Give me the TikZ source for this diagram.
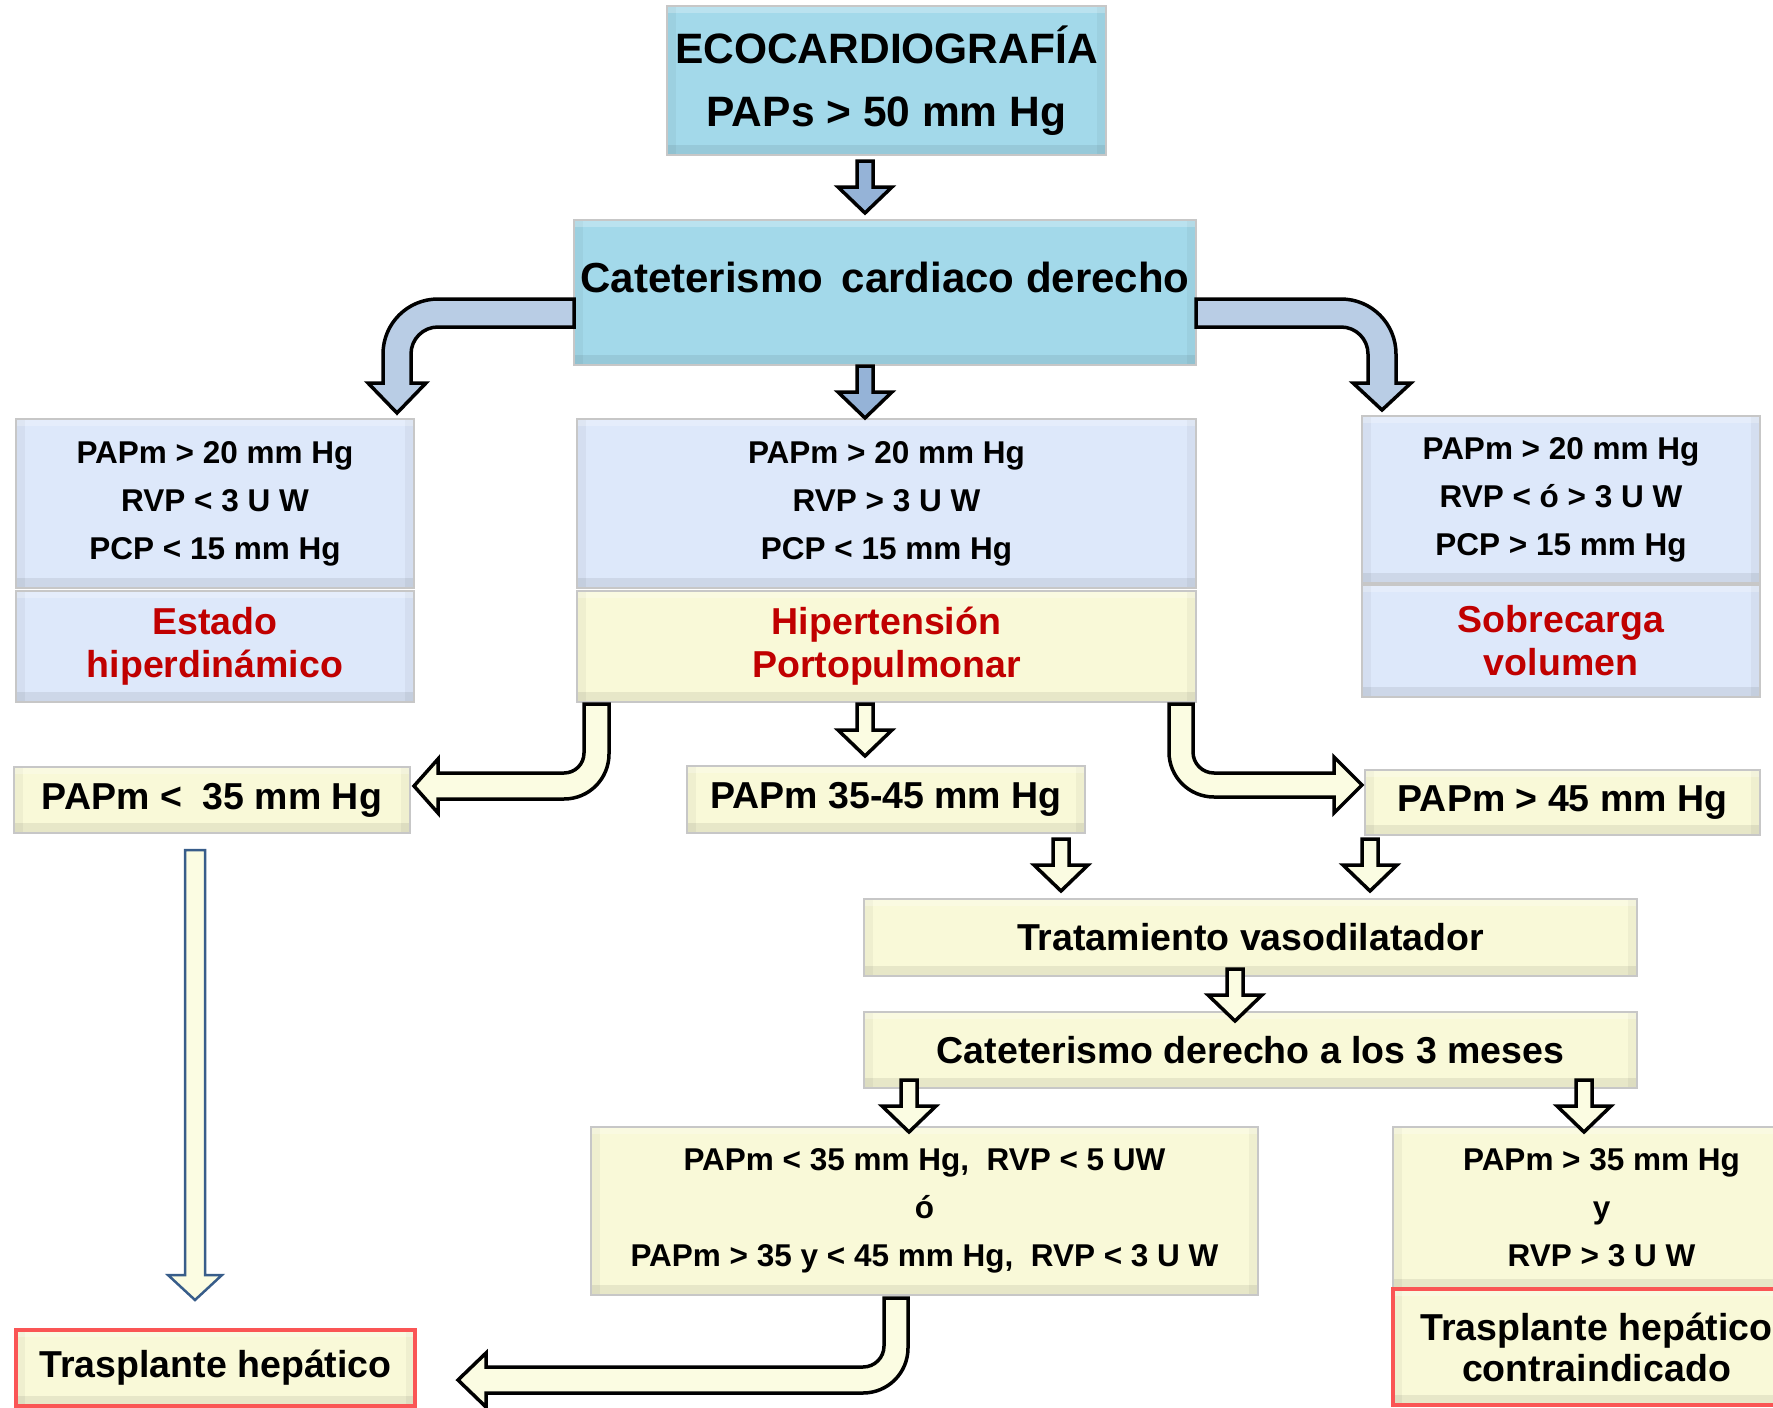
\documentclass[tikz,border=0pt]{standalone}
\usepackage{fontspec}
\setmainfont{Liberation Sans}
\usetikzlibrary{calc}

\definecolor{boxcyan}{RGB}{163,217,234}
\definecolor{boxblue}{RGB}{221,232,250}
\definecolor{boxyel}{RGB}{249,249,216}
\definecolor{arrblue}{RGB}{149,179,215}
\definecolor{arrlblue}{RGB}{185,205,229}
\definecolor{arryel}{RGB}{251,252,226}
\definecolor{txtred}{RGB}{192,0,0}
\definecolor{redline}{RGB}{250,85,85}
\definecolor{navyline}{RGB}{56,93,138}
\newcommand{\fsz}[2]{\fontsize{#1}{#2}\selectfont\bfseries}

\begin{document}
\begin{tikzpicture}[x=1pt, y=-1pt,
  box/.style={draw=black!22, line width=2pt, inner sep=0pt, align=center, font=\fsz{37.5}{43},
    path picture={
      \fill[black, opacity=0.07] (path picture bounding box.south west) rectangle ([yshift=10pt]path picture bounding box.south east);
      \fill[black, opacity=0.04] (path picture bounding box.south west) rectangle ([xshift=9pt]path picture bounding box.north west);
      \fill[black, opacity=0.04] (path picture bounding box.south east) rectangle ([xshift=-9pt]path picture bounding box.north east);
      \fill[white, opacity=0.25] (path picture bounding box.north west) rectangle ([yshift=-7pt]path picture bounding box.north east);
    }},
  cbox/.style={box, fill=boxcyan},
  bbox/.style={box, fill=boxblue},
  ybox/.style={box, fill=boxyel},
  rbox/.style={box, fill=boxyel, draw=redline, line width=3.5pt},
  sz/.style 2 args={minimum width=#1, minimum height=#2},
  lines/.style={font=\fsz{31.5}{48}},
  redtxt/.style={text=txtred},
  arr/.style={draw=black, line width=3.5pt, line join=miter},
]
\useasboundingbox (0,0) rectangle (1773,1408);

\node[cbox, sz={439}{149}, font=\fsz{42.5}{63}] (eco) at (886.5,80.5) {ECOCARDIOGRAFÍA\\PAPs > 50 mm Hg};
\node[cbox, sz={622}{145}] (cat) at (885,292.5) {};
\node[font=\fsz{42}{50}] (catT) at (885,277) {Cateterismo\ \,cardiaco derecho};

\node[bbox, lines, sz={398}{169}] (lb) at (215,503.5) {PAPm > 20 mm Hg\\RVP < 3 U W\\PCP < 15 mm Hg};
\node[bbox, redtxt, sz={398}{111}] (lr) at (215,646) {Estado\\hiperdinámico};
\node[bbox, lines, sz={619}{169}] (mb) at (886.5,503.5) {PAPm > 20 mm Hg\\RVP > 3 U W\\PCP < 15 mm Hg};
\node[ybox, redtxt, sz={619}{111}] (my) at (886.5,646) {Hipertensión\\Portopulmonar};
\node[bbox, lines, sz={398}{167}] (rb) at (1561,499.5) {PAPm > 20 mm Hg\\RVP < ó > 3 U W\\PCP > 15 mm Hg};
\node[bbox, redtxt, sz={398}{112}] (rr) at (1561,641) {Sobrecarga\\volumen};

\node[ybox, sz={396}{66}] (p35) at (212,800) {PAPm <\ \ 35 mm Hg};
\node[ybox, sz={398}{67}] (p3545) at (886,799.5) {PAPm 35-45 mm Hg};
\node[ybox, sz={395}{65}] (p45) at (1562.5,802.5) {PAPm > 45 mm Hg};
\node[ybox, sz={773}{77}] (trat) at (1250.5,937.5) {Tratamiento vasodilatador};
\node[ybox, sz={773}{76}] (cat3) at (1250.5,1050) {Cateterismo derecho a los 3 meses};
\node[ybox, lines, sz={667}{168}] (lowl) at (924.5,1211) {PAPm < 35 mm Hg,\ \ RVP < 5 UW\\ó\\PAPm > 35 y < 45 mm Hg,\ \ RVP < 3 U W};
\node[ybox, lines, sz={407}{162}] (lowr) at (1596.5,1208) {\hspace*{10pt}PAPm > 35 mm Hg\\\hspace*{10pt}y\\\hspace*{10pt}RVP > 3 U W};
\node[rbox, font=\fsz{37.5}{41}, sz={407}{116}] (contra) at (1596.5,1347) {Trasplante hepático\\contraindicado};
\node[rbox, sz={399}{76}] (trasp) at (215.5,1368) {Trasplante hepático};

\foreach \x/\y/\c in {865/161/arrblue, 865/366/arrblue, 865/704/arryel, 1061/839/arryel, 1370/839/arryel,
  1235/969/arryel, 909/1080/arryel, 1584/1080/arryel}
  \draw[arr, fill=\c] (\x,\y) ++(-8,0) -- ++(0,26) -- ++(-19,0) -- ++(27,26) -- ++(27,-26) -- ++(-19,0) -- ++(0,-26) -- cycle;

\draw[arr, fill=arrlblue] (574,299) -- (438,299) to[out=180,in=90] (383,354) -- (383,383) -- (368,383) -- (397,413)
  -- (426,383) -- (411,383) -- (411,354) to[out=90,in=180] (438,327) -- (574,327) -- cycle;
\draw[arr, fill=arrlblue] (1196,299) -- (1341,299) to[out=0,in=90] (1396,354) -- (1396,383) -- (1411,383) -- (1382,410)
  -- (1353,383) -- (1368,383) -- (1368,354) to[out=90,in=0] (1341,327) -- (1196,327) -- cycle;

\draw[arr, fill=arryel] (584,704) -- (584,753) to[out=270,in=0] (564,773) -- (438,773) -- (438,759) -- (414,786)
  -- (438,813) -- (438,799) -- (564,799) to[out=0,in=270] (609,754) -- (609,704) -- cycle;
\draw[arr, fill=arryel] (1169,704) -- (1169,752) to[out=270,in=180] (1214,797) -- (1334,797) -- (1334,813) -- (1362,785)
  -- (1334,757) -- (1334,773) -- (1214,773) to[out=180,in=270] (1193,752) -- (1193,704) -- cycle;
\draw[arr, fill=arryel] (884,1298) -- (884,1346) to[out=270,in=0] (863,1367) -- (486,1367) -- (486,1353) -- (458,1380)
  -- (486,1407) -- (486,1393) -- (863,1393) to[out=0,in=270] (908,1348) -- (908,1298) -- cycle;

\draw[draw=navyline, line width=2.5pt, fill=arryel] (185,850) -- (185,1275) -- (168,1275) -- (195,1300) -- (222,1275)
  -- (205,1275) -- (205,850) -- cycle;
\end{tikzpicture}
\end{document}
